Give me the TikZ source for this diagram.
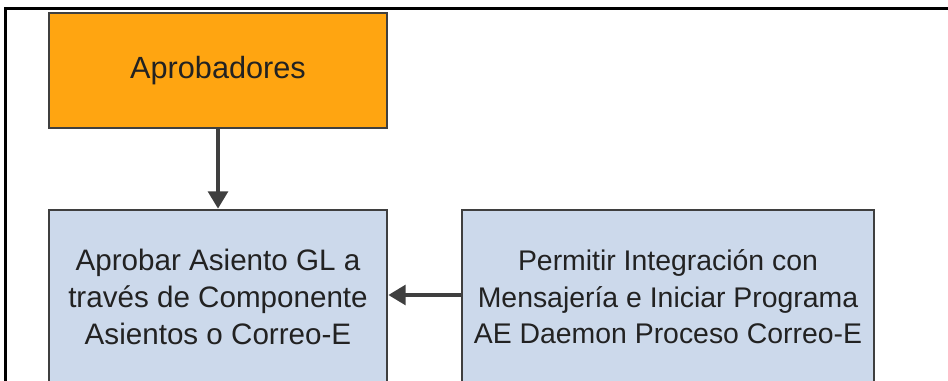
\documentclass[tikz,border=0pt]{standalone}
\usepackage{fontspec}
\setmainfont{Liberation Sans}
\usetikzlibrary{arrows.meta}
\definecolor{boxorange}{HTML}{FFA511}
\definecolor{boxblue}{HTML}{CCD9EB}
\definecolor{edgegray}{HTML}{3F3F3F}
\definecolor{txtgray}{HTML}{222222}
\tikzset{
  procbox/.style={draw=edgegray, line width=2.1pt, rectangle, align=center,
    text=txtgray, inner sep=0pt},
  conn/.style={draw=edgegray, line width=2.4pt, -{Triangle[length=13pt,width=15pt]}}
}
\begin{document}
\begin{tikzpicture}[x=0.75pt,y=-0.75pt]
\useasboundingbox (0,0) rectangle (948,381);
\clip (0,0) rectangle (948,381);
\fill[white] (0,0) rectangle (948,381);
\draw[black, line width=2pt] (5.5,400) -- (5.5,8.5) -- (960,8.5);
\node[procbox, fill=boxorange, minimum width=338*0.75pt, minimum height=115*0.75pt,
  font=\fontsize{23}{28}\selectfont] (apr) at (218,70.5) {Aprobadores};
\node[procbox, fill=boxblue, minimum width=338*0.75pt, minimum height=174*0.75pt,
  font=\fontsize{22.2}{27.6}\selectfont] (asi) at (218,297) {Aprobar Asiento GL a\\trav\'es de Componente\\Asientos o Correo-E};
\node[procbox, fill=boxblue, minimum width=412*0.75pt, minimum height=174*0.75pt,
  font=\fontsize{21.3}{27.4}\selectfont] (per) at (668,297) {Permitir Integraci\'on con\\Mensajer\'ia e Iniciar Programa\\AE Daemon Proceso Correo-E};
\draw[conn] (apr.south) -- (asi.north);
\draw[conn] (per.west |- 0,295) -- (asi.east |- 0,295);
\end{tikzpicture}
\end{document}
